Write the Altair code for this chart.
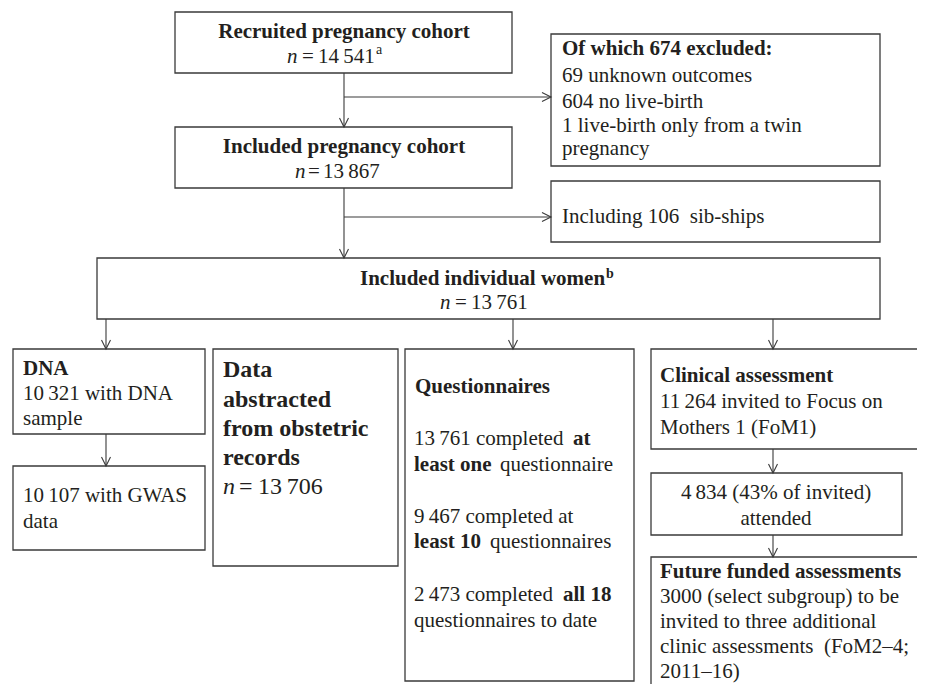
import altair as alt
import pandas as pd

# ---------------- text content ----------------
TS = "\u2009"   # thin space used as thousands separator
NB = "\u00a0"

recruited = ["Recruited pregnancy cohort", "n", "=", f"14{TS}541", "a"]
included_preg = ["Included pregnancy cohort", "n", "=", f"13{TS}867"]
excluded = ["Of which 674 excluded:", "69 unknown outcomes", "604 no live-birth",
            "1 live-birth only from a twin", "pregnancy"]
sibships = [f"Including 106{NB} sib-ships"]
women = ["Included individual women", "b", "n", "=", f"13{TS}761"]
dna = ["DNA", f"10{TS}321 with DNA", "sample"]
gwas = [f"10{TS}107 with GWAS", "data"]
records = ["Data", "abstracted", "from obstetric", "records", "n", "=", f"13{TS}706"]
quest = ["Questionnaires", f"13{TS}761 completed", "at", "least one", "questionnaire",
         f"9{TS}467 completed at", "least 10", "questionnaires",
         f"2{TS}473 completed", "all 18", "questionnaires to date"]
clinical = ["Clinical assessment", f"11{TS}264 invited to Focus on", "Mothers 1 (FoM1)"]
attended = [f"4{TS}834 (43% of invited)", "attended"]
future = ["Future funded assessments", "3000 (select subgroup) to be",
          "invited to three additional", f"clinic assessments{NB} (FoM2\u20134;", "2011\u201316)"]

# ---------------- layout (page pixels) ----------------
W, H = 909, 676
X0, Y0 = 8, 8
FONT = "Liberation Serif, Times New Roman, Times, serif"
INK = "#231f20"
LINE = "#3a3a3a"

box_names = ["recruited", "included", "excluded", "sib", "women", "dna", "gwas",
             "records", "quest", "clinical", "attended", "future"]
box_x1 = [175, 175, 551, 551, 97, 13, 13, 213, 405, 651, 651, 651]
box_y1 = [12, 127, 34, 181, 258, 349, 466, 349, 349, 349, 473, 557]
box_x2 = [512, 512, 880, 880, 880, 205, 205, 398, 634, 923, 902, 923]
box_y2 = [73, 188, 166, 242, 319, 434, 550, 566, 681, 449, 535, 700]
boxes = pd.DataFrame({"name": box_names, "x1": box_x1, "y1": box_y1,
                      "x2": box_x2, "y2": box_y2})

conn_x1 = [344, 344, 344, 344, 106, 513, 773, 106, 773, 773]
conn_y1 = [73, 97, 188, 217, 319, 319, 319, 434, 449, 535]
conn_x2 = [344, 551, 344, 551, 106, 513, 773, 106, 773, 773]
conn_y2 = [127, 97, 258, 217, 349, 349, 349, 466, 473, 557]
conns = pd.DataFrame({"x1": conn_x1, "y1": conn_y1, "x2": conn_x2, "y2": conn_y2})
conns["dir"] = ["down" if a == b else "right" for a, b in zip(conn_x1, conn_x2)]
heads = pd.DataFrame({"x": conn_x2, "y": conn_y2, "dir": conns["dir"]})

rows = []
def seg(text, x, y, kind):
    rows.append({"text": text, "x": x, "y": y, "kind": kind})

seg(recruited[0], 344, 38, "bc")
seg(recruited[1], 287, 63, "i")
seg(recruited[2], 302, 63, "r")
seg(recruited[3], 318, 63, "r")
seg(recruited[4], 376, 54, "sup")

seg(included_preg[0], 344, 153, "bc")
seg(included_preg[1], 295, 178, "i")
seg(included_preg[2], 308, 178, "r")
seg(included_preg[3], 323, 178, "r")

seg(excluded[0], 562, 55, "b")
for t, y in zip(excluded[1:], [82, 108, 132, 155]):
    seg(t, 562, y, "r")
seg(sibships[0], 562, 223, "r")

seg(women[0], 360, 285, "b")
seg(women[1], 606, 278, "supb")
seg(women[2], 440, 309, "i")
seg(women[3], 455, 309, "r")
seg(women[4], 471, 309, "r")

seg(dna[0], 23, 375, "b")
seg(dna[1], 23, 400, "r")
seg(dna[2], 23, 425, "r")
seg(gwas[0], 23, 502, "r")
seg(gwas[1], 23, 528, "r")

for t, y in zip(records[:4], [377, 407, 436, 465]):
    seg(t, 223, y, "B")
seg(records[4], 223, 494, "I")
seg(records[5], 239, 494, "R")
seg(records[6], 258, 494, "R")

seg(quest[0], 415, 393, "b")
seg(quest[1], 414, 445, "r")
seg(quest[2], 573, 445, "b")
seg(quest[3], 414, 471, "b")
seg(quest[4], 500, 471, "r")
seg(quest[5], 414, 523, "r")
seg(quest[6], 414, 548, "b")
seg(quest[7], 490, 548, "r")
seg(quest[8], 414, 601, "r")
seg(quest[9], 563, 601, "b")
seg(quest[10], 414, 627, "r")

seg(clinical[0], 660, 382, "b")
seg(clinical[1], 660, 408, "r")
seg(clinical[2], 660, 434, "r")

seg(attended[0], 776, 499, "rc")
seg(attended[1], 776, 525, "rc")

seg(future[0], 660, 578, "b")
for t, y in zip(future[1:], [603, 628, 653, 678]):
    seg(t, 660, y, "r")

texts = pd.DataFrame(rows)

# ---------------- scales ----------------
xs = alt.Scale(domain=[X0, X0 + W], nice=False, zero=False)
ys = alt.Scale(domain=[Y0, Y0 + H], nice=False, zero=False, reverse=True)

def X(f): return alt.X(f"{f}:Q", scale=xs, axis=None)
def Y(f): return alt.Y(f"{f}:Q", scale=ys, axis=None)

rects = alt.Chart(boxes).mark_rect(fill="white", stroke=LINE, strokeWidth=1.3).encode(
    x=X("x1"), x2="x2", y=Y("y1"), y2="y2")

rules = alt.Chart(conns).mark_rule(stroke=LINE, strokeWidth=1.1).encode(
    x=X("x1"), x2="x2", y=Y("y1"), y2="y2")

down_heads = alt.Chart(heads).transform_filter(alt.datum.dir == "down").mark_point(
    shape="M -1 -2 L 0 0 L 1 -2", filled=False, size=81, stroke=LINE, strokeWidth=1.1,
    opacity=1).encode(x=X("x"), y=Y("y"))
right_heads = alt.Chart(heads).transform_filter(alt.datum.dir == "right").mark_point(
    shape="M -2 -1 L 0 0 L -2 1", filled=False, size=81, stroke=LINE, strokeWidth=1.1,
    opacity=1).encode(x=X("x"), y=Y("y"))

styles = {
    "r": dict(fontSize=21, fontWeight="normal", align="left"),
    "b": dict(fontSize=21, fontWeight="bold", align="left"),
    "i": dict(fontSize=21, fontStyle="italic", align="left"),
    "bc": dict(fontSize=21, fontWeight="bold", align="center"),
    "rc": dict(fontSize=21, fontWeight="normal", align="center"),
    "B": dict(fontSize=24, fontWeight="bold", align="left"),
    "R": dict(fontSize=24, fontWeight="normal", align="left"),
    "I": dict(fontSize=24, fontStyle="italic", align="left"),
    "sup": dict(fontSize=14, fontWeight="normal", align="left"),
    "supb": dict(fontSize=14, fontWeight="bold", align="left"),
}

text_layers = []
for k, st in styles.items():
    text_layers.append(
        alt.Chart(texts).transform_filter(alt.datum.kind == k).mark_text(
            font=FONT, fill=INK, baseline="alphabetic", **st
        ).encode(x=X("x"), y=Y("y"), text="text:N")
    )

chart = alt.layer(rects, rules, down_heads, right_heads, *text_layers).properties(
    width=W, height=H, padding=0,
    autosize=alt.AutoSizeParams(type="none"),
    background="white",
).configure_view(stroke=None)

chart.save("out.html", embed_options={"renderer": "svg", "actions": False})
